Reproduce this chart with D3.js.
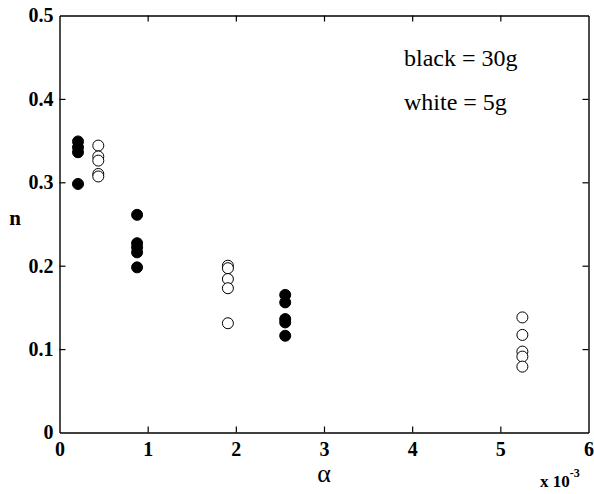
<!DOCTYPE html>
<html>
<head>
<meta charset="utf-8">
<script src="https://cdn.jsdelivr.net/npm/d3@7"></script>
<style>
  body { margin: 0; background: #fff; }
</style>
</head>
<body>
<div id="chart"></div>
<script>
// alpha (x 10^-3) for each group of measurements
var blackAlpha = [0.21, 0.88, 2.56];
var whiteAlpha = [0.44, 1.91, 5.25];
// n values, one list per group
var blackN = [
  [0.349, 0.342, 0.336, 0.298],
  [0.261, 0.227, 0.222, 0.216, 0.198],
  [0.165, 0.156, 0.136, 0.132, 0.116]
];
var whiteN = [
  [0.344, 0.331, 0.326, 0.310, 0.307],
  [0.200, 0.197, 0.184, 0.173, 0.131],
  [0.138, 0.117, 0.097, 0.091, 0.079]
];
var xTicks = [0, 1, 2, 3, 4, 5, 6];
var yTicks = [0, 0.1, 0.2, 0.3, 0.4, 0.5];
var legendLines = ["black = 30g", "white = 5g"];

var serif = "'Liberation Serif', 'Times New Roman', serif";
var width = 594, height = 494;
var margin = {left: 59.5, right: 5.5, top: 15.5, bottom: 61.5};

var svg = d3.select("#chart").append("svg")
  .attr("width", width)
  .attr("height", height)
  .attr("font-family", serif);

var x = d3.scaleLinear().domain([0, 6]).range([margin.left, width - margin.right]);
var y = d3.scaleLinear().domain([0, 0.5]).range([height - margin.bottom, margin.top]);

function fmtY(d) { return d === 0 ? "0" : d3.format(".1f")(d); }

// bottom axis, ticks point inward
var gx = svg.append("g")
  .attr("transform", "translate(0," + y(0) + ")")
  .call(d3.axisBottom(x).tickValues(xTicks).tickSizeInner(-6).tickSizeOuter(0).tickPadding(9).tickFormat(d3.format("d")));

var gt = svg.append("g")
  .attr("transform", "translate(0," + y(0.5) + ")")
  .call(d3.axisTop(x).tickValues(xTicks).tickSizeInner(-6).tickSizeOuter(0).tickFormat(""));

var gy = svg.append("g")
  .attr("transform", "translate(" + x(0) + ",0)")
  .call(d3.axisLeft(y).tickValues(yTicks).tickSizeInner(-6).tickSizeOuter(0).tickPadding(6).tickFormat(fmtY));

var gr = svg.append("g")
  .attr("transform", "translate(" + x(6) + ",0)")
  .call(d3.axisRight(y).tickValues(yTicks).tickSizeInner(-6).tickSizeOuter(0).tickFormat(""));

svg.selectAll("g").attr("font-family", serif);
[gx, gy].forEach(function (g) {
  g.selectAll("text").attr("font-size", 20).attr("font-weight", "bold").attr("fill", "#000");
});

svg.selectAll(".domain").attr("stroke", "#000").attr("stroke-width", 1.4);
svg.selectAll(".tick line").attr("stroke", "#000").attr("stroke-width", 1.2);
// hide tick marks at the corners
gx.selectAll(".tick line").filter(function (d) { return d === 0 || d === 6; }).remove();
gt.selectAll(".tick line").filter(function (d) { return d === 0 || d === 6; }).remove();
gy.selectAll(".tick line").filter(function (d) { return d === 0 || d === 0.5; }).remove();
gr.selectAll(".tick line").filter(function (d) { return d === 0 || d === 0.5; }).remove();

// flatten groups into points
var points = [];
blackAlpha.forEach(function (a, i) {
  blackN[i].forEach(function (n) { points.push({a: a, n: n, fill: "#000"}); });
});
whiteAlpha.forEach(function (a, i) {
  whiteN[i].forEach(function (n) { points.push({a: a, n: n, fill: "#fff"}); });
});

svg.append("g").selectAll("circle")
  .data(points)
  .enter()
  .append("circle")
  .attr("cx", function (d) { return x(d.a); })
  .attr("cy", function (d) { return y(d.n); })
  .attr("r", 5.5)
  .attr("fill", function (d) { return d.fill; })
  .attr("stroke", "#000")
  .attr("stroke-width", 1);

// axis titles
svg.append("text")
  .attr("x", 15).attr("y", 225)
  .attr("text-anchor", "middle")
  .attr("font-size", 21).attr("font-weight", "bold")
  .text("n");

svg.append("text")
  .attr("x", (x(0) + x(6)) / 2).attr("y", 482)
  .attr("text-anchor", "middle")
  .attr("font-size", 26)
  .text("α");

var sc = svg.append("text")
  .attr("x", 540).attr("y", 487)
  .attr("font-size", 17).attr("font-weight", "bold");
sc.append("tspan").text("x 10");
sc.append("tspan").attr("font-size", 12).attr("dy", -10).text("-3");

// legend text
svg.selectAll(".legend")
  .data(legendLines)
  .enter()
  .append("text")
  .attr("class", "legend")
  .attr("x", 404)
  .attr("y", function (d, i) { return 66 + i * 44; })
  .attr("font-size", 24)
  .text(function (d) { return d; });

// make sure every label uses the serif face
svg.selectAll("text").style("font-family", serif);
</script>
</body>
</html>
